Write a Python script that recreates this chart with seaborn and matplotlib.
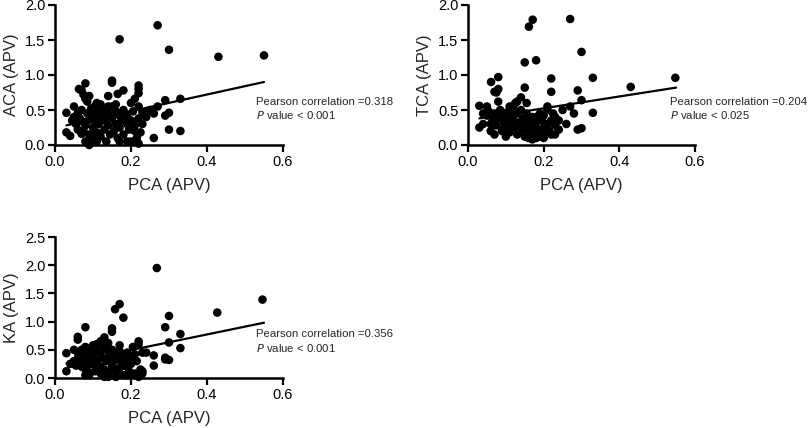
import numpy as np
import pandas as pd
import matplotlib
matplotlib.use("Agg")
import matplotlib.pyplot as plt
import seaborn as sns

sns.set_style("ticks")
plt.rcParams['font.family'] = ['Liberation Sans', 'DejaVu Sans']

# ---------------- data ----------------
# Panel 1: ACA vs PCA
aca_pca = [0.17, 0.27, 0.30, 0.43, 0.55,
           0.08, 0.063, 0.07, 0.075, 0.08, 0.09, 0.085, 0.15, 0.15, 0.18, 0.165, 0.22, 0.22, 0.22, 0.21, 0.20, 0.14, 0.11, 0.12,
           0.29, 0.33, 0.30, 0.29, 0.30, 0.33, 0.26, 0.26, 0.27, 0.25, 0.24, 0.23,
           0.03, 0.03, 0.04, 0.045, 0.05, 0.05, 0.055, 0.06, 0.06, 0.065, 0.07, 0.07, 0.075, 0.08, 0.08, 0.085, 0.09, 0.09, 0.09,
           0.095, 0.10, 0.10, 0.10, 0.105, 0.11, 0.11, 0.115, 0.12, 0.12, 0.125, 0.13, 0.13, 0.135, 0.14, 0.14, 0.145, 0.15, 0.15,
           0.155, 0.16, 0.16, 0.165, 0.17, 0.17, 0.175, 0.18, 0.18, 0.185, 0.19, 0.19, 0.195, 0.20, 0.20, 0.205, 0.21, 0.21, 0.215,
           0.22, 0.22, 0.22, 0.225, 0.23, 0.19, 0.12, 0.13, 0.095, 0.075, 0.105, 0.16, 0.14, 0.17, 0.11, 0.09, 0.06]
aca_val = [1.51, 1.71, 1.36, 1.26, 1.28,
           0.88, 0.80, 0.78, 0.72, 0.66, 0.70, 0.62, 0.92, 0.89, 0.78, 0.73, 0.85, 0.80, 0.74, 0.66, 0.60, 0.70, 0.60, 0.58,
           0.64, 0.66, 0.46, 0.42, 0.22, 0.20, 0.10, 0.45, 0.55, 0.50, 0.40, 0.47,
           0.46, 0.18, 0.13, 0.35, 0.55, 0.40, 0.30, 0.45, 0.22, 0.38, 0.50, 0.16, 0.33, 0.28, 0.05, 0.45, 0.36, 0.15, 0.00,
           0.52, 0.42, 0.25, 0.08, 0.35, 0.46, 0.18, 0.30, 0.40, 0.12, 0.50, 0.22, 0.35, 0.05, 0.45, 0.28, 0.15, 0.38, 0.55,
           0.20, 0.48, 0.30, 0.10, 0.42, 0.25, 0.35, 0.50, 0.15, 0.45, 0.30, 0.40, 0.22, 0.35, 0.05, 0.48, 0.20, 0.28, 0.10,
           0.38, 0.55, 0.02, 0.18, 0.30, 0.05, 0.52, 0.48, 0.40, 0.20, 0.55, 0.58, 0.55, 0.05, 0.05, 0.08, 0.33]
aca_fit_x = [0.03, 0.55]
aca_fit_y = [0.28, 0.90]

# Panel 2: TCA vs PCA
tca_pca = [0.171, 0.161, 0.27, 0.30, 0.15, 0.18, 0.22, 0.33, 0.43, 0.548,
           0.33, 0.29, 0.30, 0.29, 0.30, 0.061, 0.08, 0.08, 0.07, 0.075, 0.15, 0.13, 0.22, 0.03, 0.05,
           0.03, 0.04, 0.05, 0.055, 0.06, 0.065, 0.07, 0.07, 0.075, 0.08, 0.085, 0.09, 0.09, 0.095, 0.10, 0.10, 0.105,
           0.11, 0.11, 0.115, 0.12, 0.12, 0.125, 0.13, 0.13, 0.135, 0.14, 0.14, 0.145, 0.15, 0.15, 0.155, 0.16, 0.16,
           0.165, 0.17, 0.17, 0.175, 0.18, 0.18, 0.185, 0.19, 0.19, 0.195, 0.20, 0.20, 0.205, 0.21, 0.21, 0.215, 0.22,
           0.22, 0.225, 0.23, 0.23, 0.24, 0.24, 0.25, 0.26, 0.27, 0.28, 0.16, 0.17, 0.12, 0.10, 0.14, 0.19, 0.09, 0.08,
           0.13, 0.11, 0.15, 0.21, 0.18, 0.06, 0.04, 0.165, 0.175, 0.20, 0.23, 0.12, 0.155, 0.10]
tca_val = [1.79, 1.69, 1.80, 1.33, 1.18, 1.21, 0.95, 0.96, 0.83, 0.96,
           0.46, 0.78, 0.64, 0.22, 0.24, 0.90, 0.97, 0.80, 0.76, 0.75, 0.82, 0.62, 0.76, 0.56, 0.55,
           0.25, 0.30, 0.42, 0.48, 0.20, 0.35, 0.15, 0.45, 0.28, 0.38, 0.50, 0.22, 0.40, 0.32, 0.12, 0.46, 0.28,
           0.55, 0.18, 0.35, 0.42, 0.25, 0.60, 0.15, 0.45, 0.30, 0.50, 0.22, 0.38, 0.12, 0.28, 0.45, 0.10, 0.35,
           0.20, 0.15, 0.40, 0.28, 0.10, 0.32, 0.22, 0.45, 0.15, 0.35, 0.25, 0.42, 0.18, 0.30, 0.50, 0.20, 0.35,
           0.15, 0.45, 0.28, 0.40, 0.22, 0.35, 0.50, 0.30, 0.55, 0.45, 0.18, 0.08, 0.55, 0.38, 0.68, 0.12, 0.20, 0.62,
           0.32, 0.48, 0.25, 0.55, 0.40, 0.30, 0.45, 0.25, 0.12, 0.10, 0.15, 0.30, 0.60, 0.42]
tca_fit_x = [0.03, 0.55]
tca_fit_y = [0.38, 0.82]

# Panel 3: KA vs PCA
ka_pca = [0.268, 0.546, 0.427, 0.17, 0.158, 0.18, 0.30, 0.29, 0.33, 0.33, 0.30, 0.29, 0.30, 0.29, 0.26, 0.26,
          0.08, 0.06, 0.06, 0.15, 0.15, 0.13,
          0.03, 0.03, 0.04, 0.05, 0.05, 0.055, 0.06, 0.06, 0.065, 0.07, 0.07, 0.075, 0.08, 0.08, 0.085, 0.09, 0.09,
          0.095, 0.10, 0.10, 0.105, 0.11, 0.11, 0.115, 0.12, 0.12, 0.125, 0.13, 0.13, 0.135, 0.14, 0.14, 0.145,
          0.15, 0.15, 0.155, 0.16, 0.16, 0.165, 0.17, 0.17, 0.175, 0.18, 0.18, 0.185, 0.19, 0.19, 0.195, 0.20,
          0.20, 0.205, 0.21, 0.21, 0.215, 0.22, 0.22, 0.225, 0.23, 0.23, 0.24, 0.22, 0.21, 0.12, 0.10, 0.09,
          0.14, 0.16, 0.08, 0.11, 0.13, 0.07, 0.18, 0.19, 0.23, 0.17, 0.15, 0.12, 0.09, 0.14, 0.16]
ka_val = [1.95, 1.39, 1.16, 1.31, 1.22, 1.07, 1.10, 0.90, 0.78, 0.53, 0.63, 0.33, 0.32, 0.36, 0.40, 0.22,
          0.90, 0.73, 0.68, 0.88, 0.82, 0.72,
          0.44, 0.12, 0.25, 0.50, 0.30, 0.22, 0.45, 0.35, 0.28, 0.50, 0.20, 0.38, 0.55, 0.15, 0.42, 0.30, 0.05,
          0.48, 0.25, 0.40, 0.12, 0.50, 0.30, 0.20, 0.45, 0.08, 0.35, 0.55, 0.15, 0.30, 0.48, 0.02, 0.38,
          0.50, 0.22, 0.30, 0.45, 0.10, 0.35, 0.48, 0.18, 0.28, 0.40, 0.05, 0.32, 0.20, 0.45, 0.12, 0.38,
          0.25, 0.55, 0.08, 0.42, 0.30, 0.60, 0.02, 0.15, 0.45, 0.08, 0.45, 0.65, 0.05, 0.65, 0.58, 0.10,
          0.62, 0.35, 0.05, 0.60, 0.02, 0.30, 0.22, 0.05, 0.12, 0.58, 0.15, 0.20, 0.25, 0.10, 0.02]
ka_fit_x = [0.03, 0.55]
ka_fit_y = [0.26, 0.98]

x_ticks = [0.0, 0.2, 0.4, 0.6]
x_ticklabels = ["0.0", "0.2", "0.4", "0.6"]

panels = [
    dict(x=aca_pca, y=aca_val, fx=aca_fit_x, fy=aca_fit_y, ylabel="ACA (APV)",
         yticks=[0.0, 0.5, 1.0, 1.5, 2.0], r="0.318", p="< 0.001", tx=0.882,
         rect=[55/810, 1-145/428, 228/810, 140/428]),
    dict(x=tca_pca, y=tca_val, fx=tca_fit_x, fy=tca_fit_y, ylabel="TCA (APV)",
         yticks=[0.0, 0.5, 1.0, 1.5, 2.0], r="0.204", p="< 0.025", tx=0.892,
         rect=[468/810, 1-145/428, 227/810, 140/428]),
    dict(x=ka_pca, y=ka_val, fx=ka_fit_x, fy=ka_fit_y, ylabel="KA (APV)",
         yticks=[0.0, 0.5, 1.0, 1.5, 2.0, 2.5], r="0.356", p="< 0.001", tx=0.882,
         rect=[55/810, 1-378/428, 228/810, 141/428]),
]

fig = plt.figure(figsize=(8.10, 4.28), dpi=100)

for pnl in panels:
    ax = fig.add_axes(pnl["rect"])
    df = pd.DataFrame({"x": pnl["x"], "y": pnl["y"]})
    sns.scatterplot(data=df, x="x", y="y", ax=ax, color="black", s=38,
                    edgecolor="none", linewidth=0, clip_on=False, zorder=3)
    fit = pd.DataFrame({"x": pnl["fx"], "y": pnl["fy"]})
    sns.lineplot(data=fit, x="x", y="y", ax=ax, color="black", linewidth=1.6, zorder=4)
    ax.set_xlim(0, 0.6)
    ax.set_ylim(0, pnl["yticks"][-1])
    ax.set_xticks(x_ticks)
    ax.set_xticklabels(x_ticklabels)
    ax.set_yticks(pnl["yticks"])
    ax.set_yticklabels([f"{v:.1f}" for v in pnl["yticks"]])
    ax.tick_params(axis="both", direction="out", length=5, width=1.6,
                   labelsize=10.5, colors="black", pad=2)
    for s in ["left", "bottom"]:
        ax.spines[s].set_linewidth(1.8)
        ax.spines[s].set_color("black")
    sns.despine(ax=ax)
    ax.set_xlabel("PCA (APV)", fontsize=12, labelpad=7)
    ax.set_ylabel(pnl["ylabel"], fontsize=12, labelpad=4)
    ax.text(pnl["tx"], 0.31, f"Pearson correlation ={pnl['r']}", transform=ax.transAxes,
            fontsize=8.2, ha="left", va="center")
    ax.text(pnl["tx"], 0.215, "$\\it{P}$ value " + pnl["p"], transform=ax.transAxes,
            fontsize=8.2, ha="left", va="center")

fig.savefig("out.png", dpi=100)
